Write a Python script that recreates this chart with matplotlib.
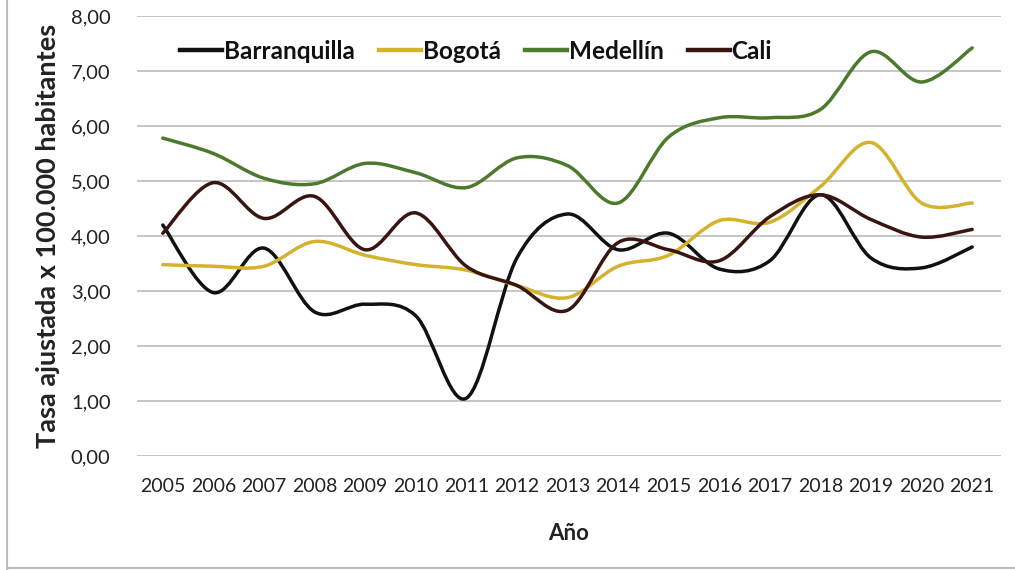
import matplotlib
matplotlib.use("Agg")
import matplotlib.pyplot as plt
from matplotlib.path import Path
from matplotlib.patches import PathPatch
from matplotlib.lines import Line2D
import numpy as np

years = list(range(2005, 2022))
barranquilla = [4.20, 2.97, 3.78, 2.62, 2.76, 2.55, 1.05, 3.60, 4.40, 3.75, 4.05, 3.40, 3.55, 4.75, 3.60, 3.42, 3.80]
bogota = [3.48, 3.45, 3.45, 3.90, 3.65, 3.48, 3.38, 3.10, 2.88, 3.45, 3.65, 4.28, 4.25, 4.90, 5.70, 4.60, 4.60]
medellin = [5.78, 5.50, 5.05, 4.95, 5.32, 5.15, 4.88, 5.42, 5.28, 4.60, 5.80, 6.15, 6.15, 6.30, 7.35, 6.80, 7.42]
cali = [4.05, 4.97, 4.32, 4.72, 3.75, 4.42, 3.45, 3.10, 2.65, 3.88, 3.75, 3.55, 4.35, 4.75, 4.30, 3.98, 4.12]

series = [
    ("Barranquilla", barranquilla, "#111111"),
    ("Bogotá", bogota, "#D4B22E"),
    ("Medellín", medellin, "#4B7A2C"),
    ("Cali", cali, "#3A1410"),
]

y_ticks = [0, 1, 2, 3, 4, 5, 6, 7, 8]

plt.rcParams['font.family'] = ['Lato', 'DejaVu Sans']

fig = plt.figure(figsize=(10.15, 5.7), dpi=100)
ax = fig.add_axes([137/1015, 1 - 456/570, (1001-137)/1015, (456-16)/570])


def smooth_path(xs, ys):
    pts = np.column_stack([xs, ys]).astype(float)
    n = len(pts)
    verts = [pts[0]]
    codes = [Path.MOVETO]
    for i in range(n - 1):
        p0 = pts[i - 1] if i > 0 else pts[i]
        p1 = pts[i]
        p2 = pts[i + 1]
        p3 = pts[i + 2] if i + 2 < n else pts[i + 1]
        c1 = p1 + (p2 - p0) / 6.0
        c2 = p2 - (p3 - p1) / 6.0
        verts += [c1, c2, p2]
        codes += [Path.CURVE4] * 3
    return Path(verts, codes)


handles = []
for name, vals, col in series:
    patch = PathPatch(smooth_path(years, vals), facecolor="none", edgecolor=col,
                      lw=2.5, capstyle="round", joinstyle="round", zorder=3)
    ax.add_patch(patch)
    handles.append(Line2D([], [], color=col, lw=3.2, label=name))

ax.set_xlim(2004.49, 2021.57)
ax.set_ylim(0, 8)
ax.set_yticks(y_ticks)
ax.set_yticklabels([f"{v:.2f}".replace(".", ",") for v in y_ticks], fontsize=14.5, color="#222222")
ax.set_xticks(years)
ax.set_xticklabels([str(y) for y in years], fontsize=14, color="#222222")
ax.tick_params(axis="both", length=0)
ax.tick_params(axis="y", pad=19)
ax.tick_params(axis="x", pad=16)
ax.grid(axis="y", color="#BBBBBB", lw=1.2, zorder=0)
for s in ax.spines.values():
    s.set_visible(False)

ax.set_xlabel("Año", fontsize=16, fontweight="bold", labelpad=20, color="#222222")
ax.set_ylabel("Tasa ajustada x 100.000 habitantes", fontsize=19.5, fontweight="bold",
              labelpad=8, color="#222222")

leg = ax.legend(handles=handles, loc="upper left", bbox_to_anchor=(0.03, 0.985), ncol=4,
                frameon=True, fontsize=17.5, handlelength=1.75, handletextpad=0.05,
                columnspacing=1.0, borderpad=0.2)
leg.get_frame().set_facecolor("white")
leg.get_frame().set_edgecolor("none")
leg.get_frame().set_alpha(1.0)
for t in leg.get_texts():
    t.set_fontweight("bold")
    t.set_color("#111111")

# figure border lines (left and bottom)
fig.add_artist(Line2D([7/1015, 7/1015], [0, 1], color="#BBBBBB", lw=1.5, transform=fig.transFigure))
fig.add_artist(Line2D([7/1015, 1], [2/570, 2/570], color="#BBBBBB", lw=1.5, transform=fig.transFigure))

fig.savefig("out.png", dpi=100)
